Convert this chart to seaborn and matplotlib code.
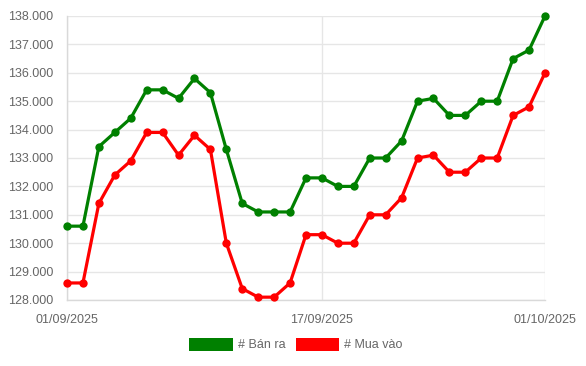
import numpy as np
import pandas as pd
import matplotlib
matplotlib.use("Agg")
import matplotlib.pyplot as plt
import seaborn as sns
from matplotlib.patches import Patch
from matplotlib.ticker import FuncFormatter

dates = pd.date_range("2025-09-01", "2025-10-01", freq="D").strftime("%d/%m/%Y").tolist()
ban_ra = [130600, 130600, 133400, 133900, 134400, 135400, 135400, 135100, 135800, 135300,
          133300, 131400, 131100, 131100, 131100, 132300, 132300, 132000, 132000, 133000,
          133000, 133600, 135000, 135100, 134500, 134500, 135000, 135000, 136500, 136800,
          138000]
mua_vao = [128600, 128600, 131400, 132400, 132900, 133900, 133900, 133100, 133800, 133300,
           130000, 128400, 128100, 128100, 128600, 130300, 130300, 130000, 130000, 131000,
           131000, 131600, 133000, 133100, 132500, 132500, 133000, 133000, 134500, 134800,
           136000]
series_names = ["# Bán ra", "# Mua vào"]
colors = ["#008000", "#ff0000"]
xtick_labels = ["01/09/2025", "17/09/2025", "01/10/2025"]

sns.set_style("white")
plt.rcParams["font.family"] = ["Liberation Sans", "DejaVu Sans"]

n = len(dates)
df = pd.DataFrame({
    "idx": list(range(n)) * 2,
    "value": ban_ra + mua_vao,
    "series": [series_names[0]] * n + [series_names[1]] * n,
})

fig = plt.figure(figsize=(5.86, 3.66), dpi=100)
ax = fig.add_axes([67 / 586, (366 - 300) / 366, (545 - 67) / 586, (300 - 16) / 366])

sns.lineplot(data=df, x="idx", y="value", hue="series", palette=colors,
             marker="o", markersize=6, markeredgewidth=0, linewidth=2.3,
             ax=ax, legend=False, clip_on=False, zorder=4)

ax.set_xlim(0, n - 1)
ax.set_ylim(128000, 138000)
ax.set_yticks(np.arange(128000, 138001, 1000))
ax.yaxis.set_major_formatter(FuncFormatter(lambda v, p: f"{int(v):,}".replace(",", ".")))
tick_pos = [dates.index(t) for t in xtick_labels]
ax.set_xticks(tick_pos)
ax.set_xticklabels(xtick_labels)
ax.set_xlabel("")
ax.set_ylabel("")

gc = "#e6e6e6"
ax.grid(True, color=gc, linewidth=1)
ax.set_axisbelow(True)
for s in ["top", "right"]:
    ax.spines[s].set_visible(False)
for s in ["left", "bottom"]:
    ax.spines[s].set_color("#d9d9d9")
    ax.spines[s].set_linewidth(1)
    ax.spines[s].set_zorder(1)
ax.tick_params(axis="both", colors=gc, labelcolor="#666666", labelsize=9,
               length=7, width=1, pad=3)
for ln in ax.get_lines():
    ln.set_clip_on(False)
    ln.set_zorder(4)

handles = [Patch(facecolor=c, edgecolor=c, linewidth=0) for c in colors]
fig.legend(handles, series_names, loc="center", bbox_to_anchor=(0.505, (366 - 344.5) / 366),
           ncol=2, frameon=False, fontsize=9, handlelength=3.5, handleheight=1.25,
           handletextpad=0.4, columnspacing=0.8, labelcolor="#666666")

fig.savefig("out.png", dpi=100)
